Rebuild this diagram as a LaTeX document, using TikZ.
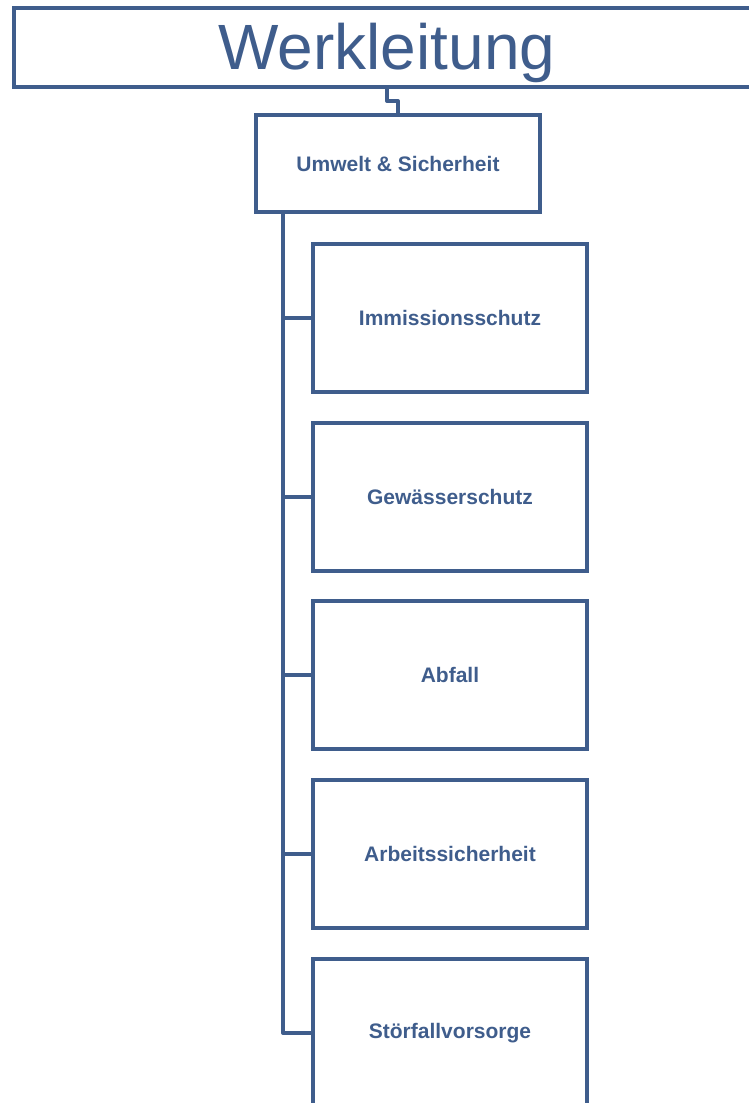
\documentclass[tikz,border=0pt]{standalone}
\usepackage{fontspec}
\setmainfont{Liberation Sans}
\definecolor{orgblue}{HTML}{3F5D8C}
\tikzset{
  unit/.style={draw=orgblue, line width=4pt, text=orgblue, font=\bfseries\fontsize{21}{24}\selectfont, inner sep=0pt},
  link/.style={draw=orgblue, line width=4pt, line join=round}
}
\begin{document}
\begin{tikzpicture}[x=1pt, y=-1pt]
            \useasboundingbox (0, 0) rectangle (749, 1103);
            %\draw[lightgray, step=50] (0, 0) grid (749, 1103);
            \node[unit, minimum width=746pt, minimum height=79pt, font=\fontsize{64}{70}\selectfont, text depth=3pt] (wl) at (387, 47.5) {Werkleitung};
            \node[unit, minimum width=284pt, minimum height=97pt] (us) at (398, 163.5) {Umwelt \& Sicherheit};
            \node[unit, minimum width=274pt, minimum height=148pt] (is) at (450, 318) {Immissionsschutz};
            \node[unit, minimum width=274pt, minimum height=148pt] (gs) at (450, 496.5) {Gewässerschutz};
            \node[unit, minimum width=274pt, minimum height=148pt] (ab) at (450, 675) {Abfall};
            \node[unit, minimum width=274pt, minimum height=148pt] (as) at (450, 853.5) {Arbeitssicherheit};
            \node[unit, minimum width=274pt, minimum height=148pt] (sv) at (450, 1033) {Störfallvorsorge};
            \draw[link] (wl.south) -- ++(0, 12) -| (us.north);
            \coordinate (t0) at ([xshift=29pt]us.south west);
            \draw[link] (t0) |- (sv.west);
            \draw[link] (t0 |- is.west) -- (is.west);
            \draw[link] (t0 |- gs.west) -- (gs.west);
            \draw[link] (t0 |- ab.west) -- (ab.west);
            \draw[link] (t0 |- as.west) -- (as.west);
        \end{tikzpicture}
\end{document}
